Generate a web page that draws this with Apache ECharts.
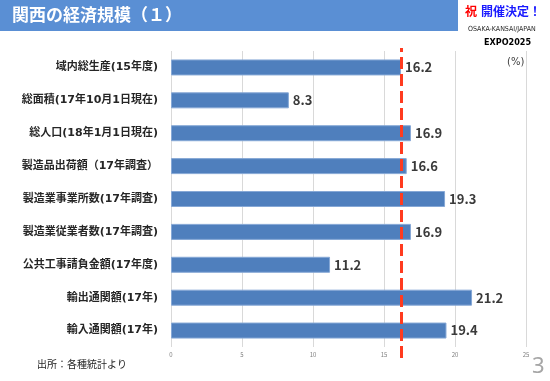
<!DOCTYPE html>
<html>
<head>
<meta charset="utf-8">
<script src="https://cdn.jsdelivr.net/npm/echarts@6/dist/echarts.min.js"></script>
<style>
  html, body { margin: 0; padding: 0; background: #fff; }
  #main { width: 550px; height: 381px; }
</style>
</head>
<body>
<div id="main"></div>
<script>
// data
const categories = [
  '域内総生産(15年度)',
  '総面積(17年10月1日現在)',
  '総人口(18年1月1日現在)',
  '製造品出荷額（17年調査）',
  '製造業事業所数(17年調査)',
  '製造業従業者数(17年調査)',
  '公共工事請負金額(17年度)',
  '輸出通関額(17年)',
  '輸入通関額(17年)'
];
const shares = [16.2, 8.3, 16.9, 16.6, 19.3, 16.9, 11.2, 21.2, 19.4];
const refLine = 16.2;
const xTicks = { min: 0, max: 25, step: 5 };

const font = '"Noto Sans CJK JP", "Noto Sans", sans-serif';
// wide bold latin digits like the original, kanji fall back to Noto CJK
const labelFont = '"DejaVu Sans", "Noto Sans CJK JP", sans-serif';

const chart = echarts.init(document.getElementById('main'), null, { renderer: 'canvas' });

const option = {
  animation: false,
  textStyle: { fontFamily: font },
  grid: [
    { left: 171, right: 24, top: 51, bottom: 34 },
    // taller invisible grid so the dashed line runs past the plot like the original
    { left: 171, right: 24, top: 48, bottom: 23 }
  ],
  xAxis: [
    {
      gridIndex: 0,
      type: 'value',
      min: xTicks.min, max: xTicks.max, interval: xTicks.step,
      axisLine: { show: false },
      axisTick: { show: false },
      axisLabel: { fontSize: 6, color: '#7f7f7f', margin: 5 },
      splitLine: { show: true, lineStyle: { color: '#d9d9d9', width: 1 } }
    },
    {
      gridIndex: 1,
      type: 'value',
      min: xTicks.min, max: xTicks.max,
      show: false
    }
  ],
  yAxis: [
    {
      gridIndex: 0,
      type: 'category',
      data: categories,
      inverse: true,
      axisLine: { show: false },
      axisTick: { show: false },
      axisLabel: { fontSize: 11, fontWeight: 'bold', color: '#262626', margin: 13, fontFamily: labelFont }
    },
    {
      gridIndex: 1,
      type: 'category',
      data: [''],
      show: false
    }
  ],
  series: [
    {
      type: 'bar',
      xAxisIndex: 0,
      yAxisIndex: 0,
      data: shares,
      barWidth: 16,
      itemStyle: { color: '#4f7fbd', borderColor: '#86a8d6', borderWidth: 1 },
      label: {
        show: true,
        position: 'right',
        distance: 4,
        fontSize: 13,
        fontWeight: 'bold',
        color: '#3a3a3a',
        formatter: p => p.value.toFixed(1)
      },
      z: 2
    },
    {
      type: 'line',
      xAxisIndex: 1,
      yAxisIndex: 1,
      data: [],
      z: 5,
      markLine: {
        silent: true,
        symbol: ['none', 'none'],
        label: { show: false },
        lineStyle: { color: '#ff3b1f', width: 3, type: [12, 5] },
        data: [{ xAxis: refLine }]
      }
    }
  ],
  graphic: [
    {
      type: 'rect',
      shape: { x: 0, y: 0, width: 458, height: 31 },
      style: { fill: '#5a8fd4' }
    },
    {
      type: 'text',
      left: 12, top: 6,
      style: { text: '関西の経済規模（１）', fill: '#fff', font: 'bold 17px ' + font }
    },
    {
      type: 'text',
      left: 465, top: 5,
      style: { text: '祝', fill: '#ff0000', font: 'bold 12px ' + font }
    },
    {
      type: 'text',
      left: 481, top: 5,
      style: { text: '開催決定！', fill: '#1a1aff', font: 'bold 12px ' + font }
    },
    {
      type: 'text',
      left: 468, top: 26,
      style: { text: 'OSAKA-KANSAI/JAPAN', fill: '#262626', font: '7px "Liberation Sans Narrow", "DejaVu Sans Condensed", sans-serif' }
    },
    {
      type: 'text',
      left: 484, top: 38,
      style: { text: 'EXPO2025', fill: '#000', font: 'bold 9px "DejaVu Sans Condensed", sans-serif' }
    },
    {
      type: 'text',
      left: 507, top: 57,
      style: { text: '(%)', fill: '#404040', font: '10px "DejaVu Sans", sans-serif' }
    },
    {
      type: 'text',
      left: 37, top: 359,
      style: { text: '出所：各種統計より', fill: '#262626', font: '10px ' + font }
    },
    {
      type: 'text',
      left: 532, top: 356,
      style: { text: '3', fill: '#a6a6a6', font: '22px "Noto Sans", sans-serif' }
    }
  ]
};

chart.setOption(option);
</script>
</body>
</html>
